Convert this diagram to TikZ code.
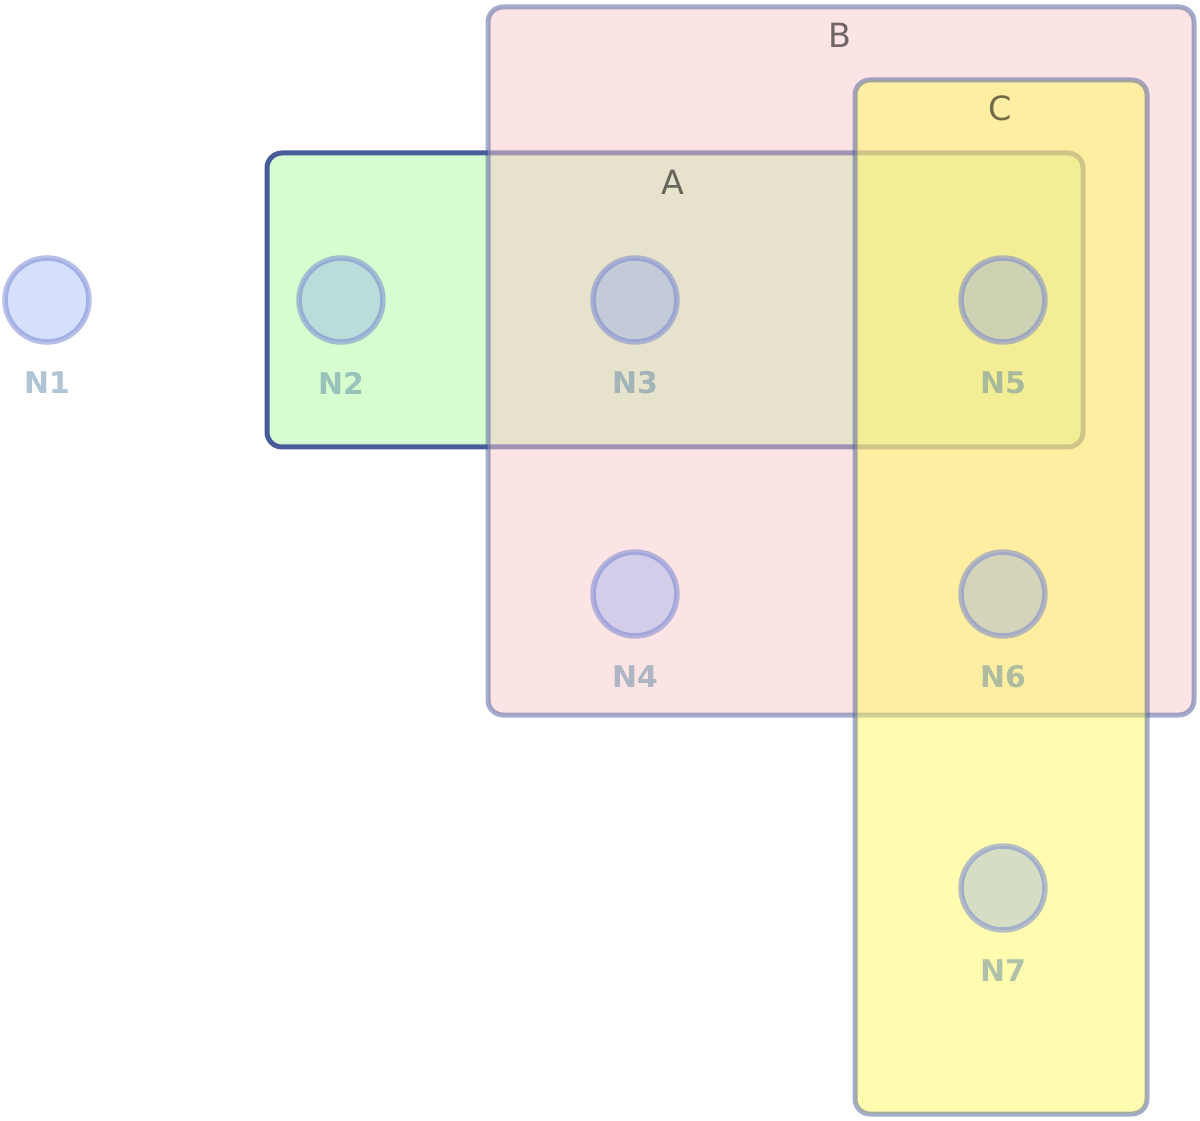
\documentclass[tikz,border=0pt]{standalone}
\usepackage{fontspec}
\setmainfont{DejaVu Sans}
\definecolor{bordercol}{RGB}{72,92,156}
\definecolor{afill}{RGB}{214,252,208}
\definecolor{bfill}{RGB}{249,201,201}
\definecolor{cfill}{RGB}{255,249,97}
\definecolor{nodefill}{RGB}{118,152,245}
\definecolor{nodering}{RGB}{113,129,209}
\definecolor{nlabel}{RGB}{79,124,160}
\tikzset{
  px/.style={x=0.02cm,y=-0.02cm},
  setbox/.style={draw=bordercol,line width=0.1cm,rounded corners=0.3cm,inner sep=0pt,outer sep=0pt,anchor=north west},
  setname/.style={text=black,text opacity=0.55,font=\fontsize{19}{19}\selectfont,inner sep=0pt},
  vertex/.style={circle,minimum size=1.68cm,inner sep=0pt,outer sep=0pt,fill=nodefill,fill opacity=0.3,draw=nodering,draw opacity=0.5,line width=0.11cm},
  vlabel/.style={text=nlabel,text opacity=0.45,font=\bfseries\fontsize{17}{17}\selectfont,inner sep=0pt}
}
\begin{document}
\begin{tikzpicture}[px]
\useasboundingbox (0,0) rectangle (1200,1121);
% sets
\node[setbox,fill=afill,minimum width=816*0.02cm,minimum height=294*0.02cm] (A) at (267,153) {};
\node[setbox,fill=bfill,fill opacity=0.5,draw opacity=0.5,minimum width=706*0.02cm,minimum height=708*0.02cm] (B) at (488,7) {};
\node[setbox,fill=cfill,fill opacity=0.5,draw opacity=0.5,minimum width=292*0.02cm,minimum height=1034*0.02cm] (C) at (855,80) {};
\node[setname] (Alab) at (673,182) {A};
\node[setname] (Blab) at (840,35) {B};
\node[setname] (Clab) at (1000,108) {C};
% vertices
\node[vertex] (N1) at (47,300) {};
\node[vertex] (N2) at (341,300) {};
\node[vertex] (N3) at (635,300) {};
\node[vertex] (N4) at (635,594) {};
\node[vertex] (N5) at (1003,300) {};
\node[vertex] (N6) at (1003,594) {};
\node[vertex] (N7) at (1003,888) {};
\node[vlabel] (L1) at (47,383) {N1};
\node[vlabel] (L2) at (341,383) {N2};
\node[vlabel] (L3) at (635,383) {N3};
\node[vlabel] (L4) at (635,677) {N4};
\node[vlabel] (L5) at (1003,383) {N5};
\node[vlabel] (L6) at (1003,677) {N6};
\node[vlabel] (L7) at (1003,971) {N7};
\end{tikzpicture}
\end{document}
